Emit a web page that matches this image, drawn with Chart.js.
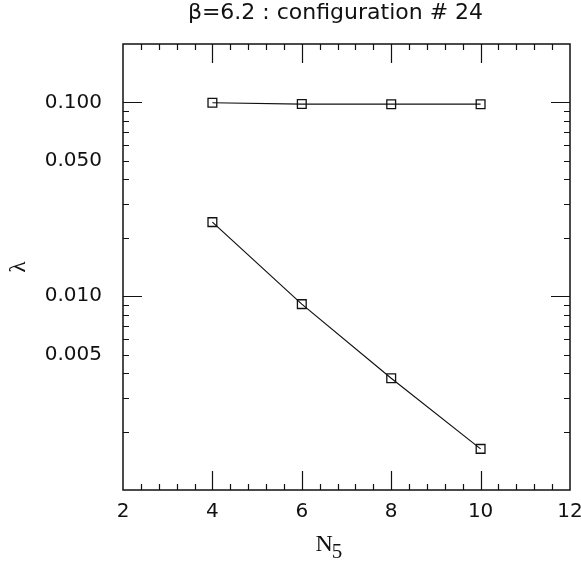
<!DOCTYPE html>
<html>
<head>
<meta charset="utf-8">
<script src="https://cdn.jsdelivr.net/npm/chart.js@4"></script>
<style>
  html, body { margin: 0; padding: 0; background: #fff; }
  #wrap { width: 581px; height: 561px; }
</style>
</head>
<body>
<div id="wrap"><canvas id="check"></canvas></div>
<script>
// data
const n5 = [4, 6, 8, 10];
const lambdaUpper = [0.0995, 0.0980, 0.0978, 0.0978];
const lambdaLower = [0.0241, 0.0091, 0.00377, 0.00163];

// axes
const xRange = [2, 12];
const xMajorStep = 2;
const xMinorStep = 0.4;
const yRange = [0.001, 0.2];
const yLabelTicks = [0.1, 0.05, 0.01, 0.005];
const yMajorTicks = [0.1, 0.01];

const titleText = "\u03B2=6.2 : configuration # 24";
const tickFont = { family: "DejaVu Sans", size: 20 };

function series(values) {
    return {
        data: n5.map((x, i) => ({ x: x, y: values[i] })),
        borderColor: "#111",
        borderWidth: 1.2,
        pointStyle: "rect",
        pointRadius: 6.2,
        pointBorderWidth: 1.3,
        pointBorderColor: "#111",
        pointBackgroundColor: "rgba(255,255,255,0)",
        fill: false,
    };
}

// frame, inward tick marks on all four sides, title and x label
const frameTicks = {
    id: "frameTicks",
    afterDraw(chart) {
        const ctx = chart.ctx;
        const a = chart.chartArea;
        const xs = chart.scales.x;
        const ys = chart.scales.y;
        ctx.save();
        ctx.strokeStyle = "#111";
        ctx.lineWidth = 1.5;
        ctx.strokeRect(a.left, a.top, a.right - a.left, a.bottom - a.top);
        ctx.lineWidth = 1.2;
        ctx.beginPath();
        const nx = Math.round((xRange[1] - xRange[0]) / xMinorStep);
        for (let i = 1; i < nx; i++) {
            const v = xRange[0] + i * xMinorStep;
            const major = Math.abs(v / xMajorStep - Math.round(v / xMajorStep)) < 1e-6;
            const len = major ? 19 : 6;
            const px = Math.round(xs.getPixelForValue(v)) + 0.5;
            ctx.moveTo(px, a.bottom); ctx.lineTo(px, a.bottom - len);
            ctx.moveTo(px, a.top); ctx.lineTo(px, a.top + len);
        }
        for (let d = 0.001; d < yRange[1]; d *= 10) {
            for (let m = 1; m <= 9; m++) {
                const v = +(d * m).toPrecision(3);
                if (v <= yRange[0] || v >= yRange[1]) continue;
                const major = yMajorTicks.includes(v);
                const len = major ? 19 : 6;
                const py = Math.round(ys.getPixelForValue(v)) + 0.5;
                ctx.moveTo(a.left, py); ctx.lineTo(a.left + len, py);
                ctx.moveTo(a.right, py); ctx.lineTo(a.right - len, py);
            }
        }
        ctx.stroke();

        ctx.fillStyle = "#111";
        ctx.textAlign = "center";
        ctx.textBaseline = "alphabetic";
        ctx.font = "22px 'DejaVu Sans'";
        ctx.fillText(titleText, (a.left + a.right) / 2 - 11, 19);

        // N with subscript 5
        ctx.textAlign = "left";
        ctx.font = "24px 'Liberation Serif'";
        const cx = (a.left + a.right) / 2 - 31;
        ctx.fillText("N", cx, 551);
        const nw = ctx.measureText("N").width;
        ctx.font = "21px 'Liberation Serif'";
        ctx.fillText("5", cx + nw - 1, 558);
        ctx.restore();
    },
};

new Chart(document.getElementById("check"), {
    type: "line",
    data: { datasets: [series(lambdaUpper), series(lambdaLower)] },
    options: {
        responsive: true,
        maintainAspectRatio: false,
        animation: false,
        layout: { padding: { top: 44, right: 0, left: 0, bottom: 0 } },
        plugins: {
            legend: { display: false },
            tooltip: { enabled: false },
        },
        scales: {
            x: {
                type: "linear",
                min: xRange[0],
                max: xRange[1],
                grid: { display: false },
                border: { display: false },
                ticks: { stepSize: xMajorStep, color: "#111", font: tickFont, padding: 2 },
                afterFit(scale) {
                    scale.height = 71;
                    scale.paddingLeft = 0;
                    scale.paddingRight = 11;
                },
            },
            y: {
                type: "logarithmic",
                min: yRange[0],
                max: yRange[1],
                grid: { display: false },
                border: { display: false },
                afterBuildTicks(scale) {
                    scale.ticks = yLabelTicks.map(v => ({ value: v }));
                },
                ticks: {
                    color: "#111",
                    font: tickFont,
                    padding: 13,
                    callback: v => Number(v).toFixed(3),
                },
                title: {
                    display: true,
                    text: "\u03BB",
                    color: "#111",
                    font: { family: "Liberation Serif", size: 23 },
                    padding: { top: 5, bottom: 0 },
                },
                afterFit(scale) { scale.width = 123; },
            },
        },
    },
    plugins: [frameTicks],
});
</script>
</body>
</html>
